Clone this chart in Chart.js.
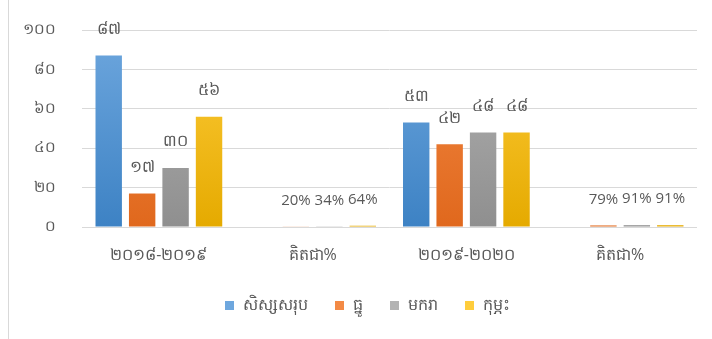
<!DOCTYPE html>
<html>
<head>
<meta charset="utf-8">
<script src="https://cdn.jsdelivr.net/npm/chart.js@4/dist/chart.umd.min.js"></script>
<style>
  html, body { margin: 0; padding: 0; background: #fff; }
  #wrap { position: relative; width: 712px; height: 339px; }
  #wrap:before { content: ""; position: absolute; left: 8px; top: 0; bottom: 0; border-left: 1px solid #d9d9d9; }
  #legend { position: absolute; left: 225px; top: 293px; display: flex; align-items: center;
            font: 16px 'Open Sans', sans-serif; color: #595959; }
  #legend span.box { display: inline-block; width: 9px; height: 9px; margin-right: 9px; }
  #legend span.item { display: inline-flex; align-items: center; margin-right: 27px; }
</style>
</head>
<body>
<div id="wrap">
  <canvas id="chart" width="712" height="339"></canvas>
  <div id="legend"></div>
</div>
<script>
const categories = ["២០១៨-២០១៩", "គិតជា%", "២០១៩-២០២០", "គិតជា%"];
const seriesNames = ["សិស្សសរុប", "ធ្នូ", "មករា", "កុម្ភះ"];
// totals in the year columns, shares (0..1) in the percent columns
const totalStudents = [87, null, 53, null];
const dec = [17, 0.20, 42, 0.79];
const jan = [30, 0.34, 48, 0.91];
const feb = [56, 0.64, 48, 0.91];
const yTicks = [0, 20, 40, 60, 80, 100];

const khDigits = "០១២៣៤៥៦៧៨៩";
function toKhmer(n) {
  return String(n).replace(/[0-9]/g, d => khDigits[+d]);
}

// light top -> darker bottom, like the office style fills
const fills = [
  ["#6ea7de", "#3d82c4"],
  ["#f38a45", "#e0681d"],
  ["#b3b3b3", "#8f8f8f"],
  ["#ffcd3c", "#e5aa00"]
];
function gradientFill(i) {
  return function (ctx) {
    const area = ctx.chart.chartArea;
    if (!area) return fills[i][0];
    const g = ctx.chart.ctx.createLinearGradient(0, area.top, 0, area.bottom);
    g.addColorStop(0, fills[i][0]);
    g.addColorStop(1, fills[i][1]);
    return g;
  };
}

const valueLabels = {
  id: "valueLabels",
  afterDatasetsDraw(chart) {
    const c = chart.ctx;
    c.save();
    // baseline redrawn over the tiny percent bars
    const y0 = chart.scales.y.getPixelForValue(0);
    c.strokeStyle = "#d9d9d9";
    c.lineWidth = 1;
    c.beginPath();
    c.moveTo(chart.chartArea.left, Math.round(y0) + 0.5);
    c.lineTo(chart.chartArea.right, Math.round(y0) + 0.5);
    c.stroke();

    c.fillStyle = "#595959";
    c.textAlign = "center";
    c.textBaseline = "middle";
    chart.data.datasets.forEach((ds, di) => {
      chart.getDatasetMeta(di).data.forEach((bar, i) => {
        const v = ds.data[i];
        if (v == null) return;
        let txt;
        if (v < 1) {
          txt = Math.round(v * 100) + "%";
          c.font = "15px 'Open Sans', sans-serif";
        } else {
          txt = toKhmer(v);
          c.font = "16px 'Open Sans', sans-serif";
        }
        c.fillText(txt, bar.x, bar.y - 26);
      });
    });
    c.restore();
  }
};

const sets = [totalStudents, dec, jan, feb];
new Chart(document.getElementById("chart"), {
  type: "bar",
  data: {
    labels: categories,
    datasets: sets.map((d, i) => ({
      label: seriesNames[i],
      data: d,
      backgroundColor: gradientFill(i),
      borderWidth: 0,
      barPercentage: 0.79,
      categoryPercentage: 0.87
    }))
  },
  options: {
    responsive: false,
    animation: false,
    layout: { padding: { left: 8, right: 15, top: 30, bottom: 60 } },
    plugins: {
      tooltip: { enabled: false },
      legend: { display: false }
    },
    scales: {
      x: {
        afterFit(s) { s.height = 52; },
        grid: { display: false },
        border: { display: false },
        ticks: { color: "#595959", font: { size: 16, family: "'Open Sans', sans-serif" }, padding: 11 }
      },
      y: {
        min: 0,
        max: 100,
        afterFit(s) { s.width = 74; s.paddingTop = 0; s.paddingBottom = 0; },
        afterBuildTicks(s) { s.ticks = yTicks.map(v => ({ value: v })); },
        grid: { color: "#d9d9d9", lineWidth: 1, drawTicks: false },
        border: { display: false },
        ticks: {
          color: "#595959",
          font: { size: 15, family: "'Open Sans', sans-serif" },
          padding: 26,
          callback: v => toKhmer(v)
        }
      }
    }
  },
  plugins: [valueLabels]
});

// legend built from the series names
const legend = document.getElementById("legend");
seriesNames.forEach((name, i) => {
  const item = document.createElement("span");
  item.className = "item";
  const box = document.createElement("span");
  box.className = "box";
  box.style.background = fills[i][0];
  item.appendChild(box);
  item.appendChild(document.createTextNode(name));
  legend.appendChild(item);
});
</script>
</body>
</html>
